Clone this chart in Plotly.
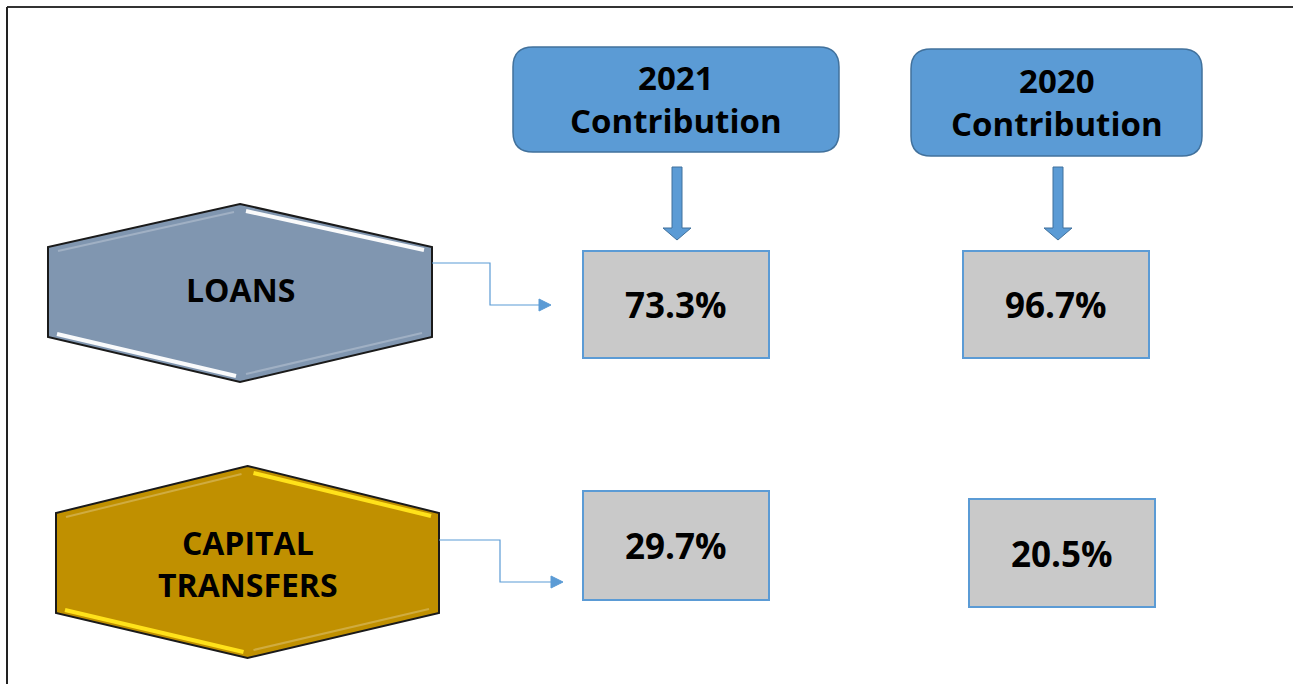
import plotly.graph_objects as go

# ---------------- data ----------------
categories = ["LOANS", "CAPITAL<br>TRANSFERS"]
years = ["2021", "2020"]
header_labels = [f"{y}<br>Contribution" for y in years]
values_2021 = [73.3, 29.7]
values_2020 = [96.7, 20.5]

# ---------------- layout (pixel geometry) ----------------
W, H = 1293, 684
FONT = "Open Sans"
BLUE = "#5B9BD5"
BLUE_DARK = "#41719C"
GREY = "#C9C9C9"

hex_boxes = [  # x0, x1, y_top_vertex, y_upper, y_lower, y_bottom_vertex
    (48, 432, 204, 247, 337, 382),
    (56, 439, 466, 513, 613, 658),
]
hex_fill = ["#8096B0", "#C09000"]
hex_glint = ["rgba(255,255,255,0.95)", "#FFE21A"]
hex_text_dy = [-3, 0]

header_boxes = [(513, 839, 47, 152), (911, 1202, 49, 156)]
down_arrows = [(677, 167, 240), (1058, 167, 240)]  # xc, y_top, y_tip

value_boxes = [
    [(583, 769, 251, 358), (963, 1149, 251, 358)],
    [(583, 769, 491, 600), (969, 1155, 499, 607)],
]
connectors = [  # start x, start y, bend x, end y, end x
    (432, 263, 490, 305, 551),
    (439, 540, 500, 582, 563),
]

values = [list(v) for v in zip(values_2021, values_2020)]  # rows x columns

fig = go.Figure()
shapes = []
annotations = []

# frame
shapes.append(dict(type="line", x0=7, x1=W, y0=7, y1=7, line=dict(color="#333333", width=2)))
shapes.append(dict(type="line", x0=7, x1=7, y0=7, y1=H, line=dict(color="#222222", width=2)))

# hexagons
for i, (x0, x1, yt, yu, yl, yb) in enumerate(hex_boxes):
    xm = (x0 + x1) / 2
    path = f"M {xm},{yt} L {x1},{yu} L {x1},{yl} L {xm},{yb} L {x0},{yl} L {x0},{yu} Z"
    shapes.append(dict(type="path", path=path, fillcolor=hex_fill[i],
                       line=dict(color="#1a1a1a", width=2)))
    # bevel glints
    shapes.append(dict(type="line", x0=xm + 6, y0=yt + 7, x1=x1 - 8, y1=yu + 3,
                       line=dict(color=hex_glint[i], width=4)))
    shapes.append(dict(type="line", x0=x0 + 9, y0=yl - 3, x1=xm - 4, y1=yb - 6,
                       line=dict(color=hex_glint[i], width=4)))
    shapes.append(dict(type="line", x0=x0 + 10, y0=yu + 4, x1=xm - 6, y1=yt + 8,
                       line=dict(color="rgba(255,255,255,0.25)", width=2)))
    shapes.append(dict(type="line", x0=xm + 6, y0=yb - 8, x1=x1 - 10, y1=yl - 4,
                       line=dict(color="rgba(255,255,255,0.25)", width=2)))
    annotations.append(dict(x=xm, y=(yu + yl) / 2 + hex_text_dy[i], text=f"<b>{categories[i]}</b>",
                            showarrow=False, font=dict(family=FONT, size=32, color="#000"),
                            align="center"))

# connectors
for (sx, sy, bx, ey, ex) in connectors:
    shapes.append(dict(type="path", path=f"M {sx},{sy} L {bx},{sy} L {bx},{ey} L {ex-10},{ey}",
                       line=dict(color=BLUE, width=1.2)))
    shapes.append(dict(type="path", path=f"M {ex-12},{ey-6} L {ex},{ey} L {ex-12},{ey+6} Z",
                       fillcolor=BLUE, line=dict(color=BLUE, width=1)))

# header boxes
r = 20
for j, (x0, x1, y0, y1) in enumerate(header_boxes):
    path = (f"M {x0+r},{y0} L {x1-r},{y0} Q {x1},{y0} {x1},{y0+r} L {x1},{y1-r} "
            f"Q {x1},{y1} {x1-r},{y1} L {x0+r},{y1} Q {x0},{y1} {x0},{y1-r} "
            f"L {x0},{y0+r} Q {x0},{y0} {x0+r},{y0} Z")
    shapes.append(dict(type="path", path=path, fillcolor=BLUE,
                       line=dict(color=BLUE_DARK, width=1.5)))
    annotations.append(dict(x=(x0 + x1) / 2, y=(y0 + y1) / 2 - 1, text=f"<b>{header_labels[j]}</b>",
                            showarrow=False, font=dict(family=FONT, size=33, color="#000"),
                            align="center"))

# down arrows
for (xc, yt, ytip) in down_arrows:
    sw, hw, hh = 5, 14, 12
    path = (f"M {xc-sw},{yt} L {xc+sw},{yt} L {xc+sw},{ytip-hh} L {xc+hw},{ytip-hh} "
            f"L {xc},{ytip} L {xc-hw},{ytip-hh} L {xc-sw},{ytip-hh} Z")
    shapes.append(dict(type="path", path=path, fillcolor=BLUE,
                       line=dict(color=BLUE_DARK, width=1)))

# value boxes
for i in range(len(categories)):
    for j in range(len(years)):
        x0, x1, y0, y1 = value_boxes[i][j]
        shapes.append(dict(type="rect", x0=x0, x1=x1, y0=y0, y1=y1, fillcolor=GREY,
                           line=dict(color=BLUE, width=2)))
        annotations.append(dict(x=(x0 + x1) / 2, y=(y0 + y1) / 2, text=f"<b>{values[i][j]:.1f}%</b>",
                                showarrow=False, font=dict(family=FONT, size=35, color="#000")))

fig.update_layout(
    width=W, height=H, margin=dict(l=0, r=0, t=0, b=0),
    paper_bgcolor="white", plot_bgcolor="white",
    xaxis=dict(range=[0, W], visible=False, fixedrange=True),
    yaxis=dict(range=[H, 0], visible=False, fixedrange=True),
    shapes=shapes, annotations=annotations, showlegend=False,
)

fig.write_html("out.html", config={"displayModeBar": False},
               post_script="document.body.style.margin='0';")
